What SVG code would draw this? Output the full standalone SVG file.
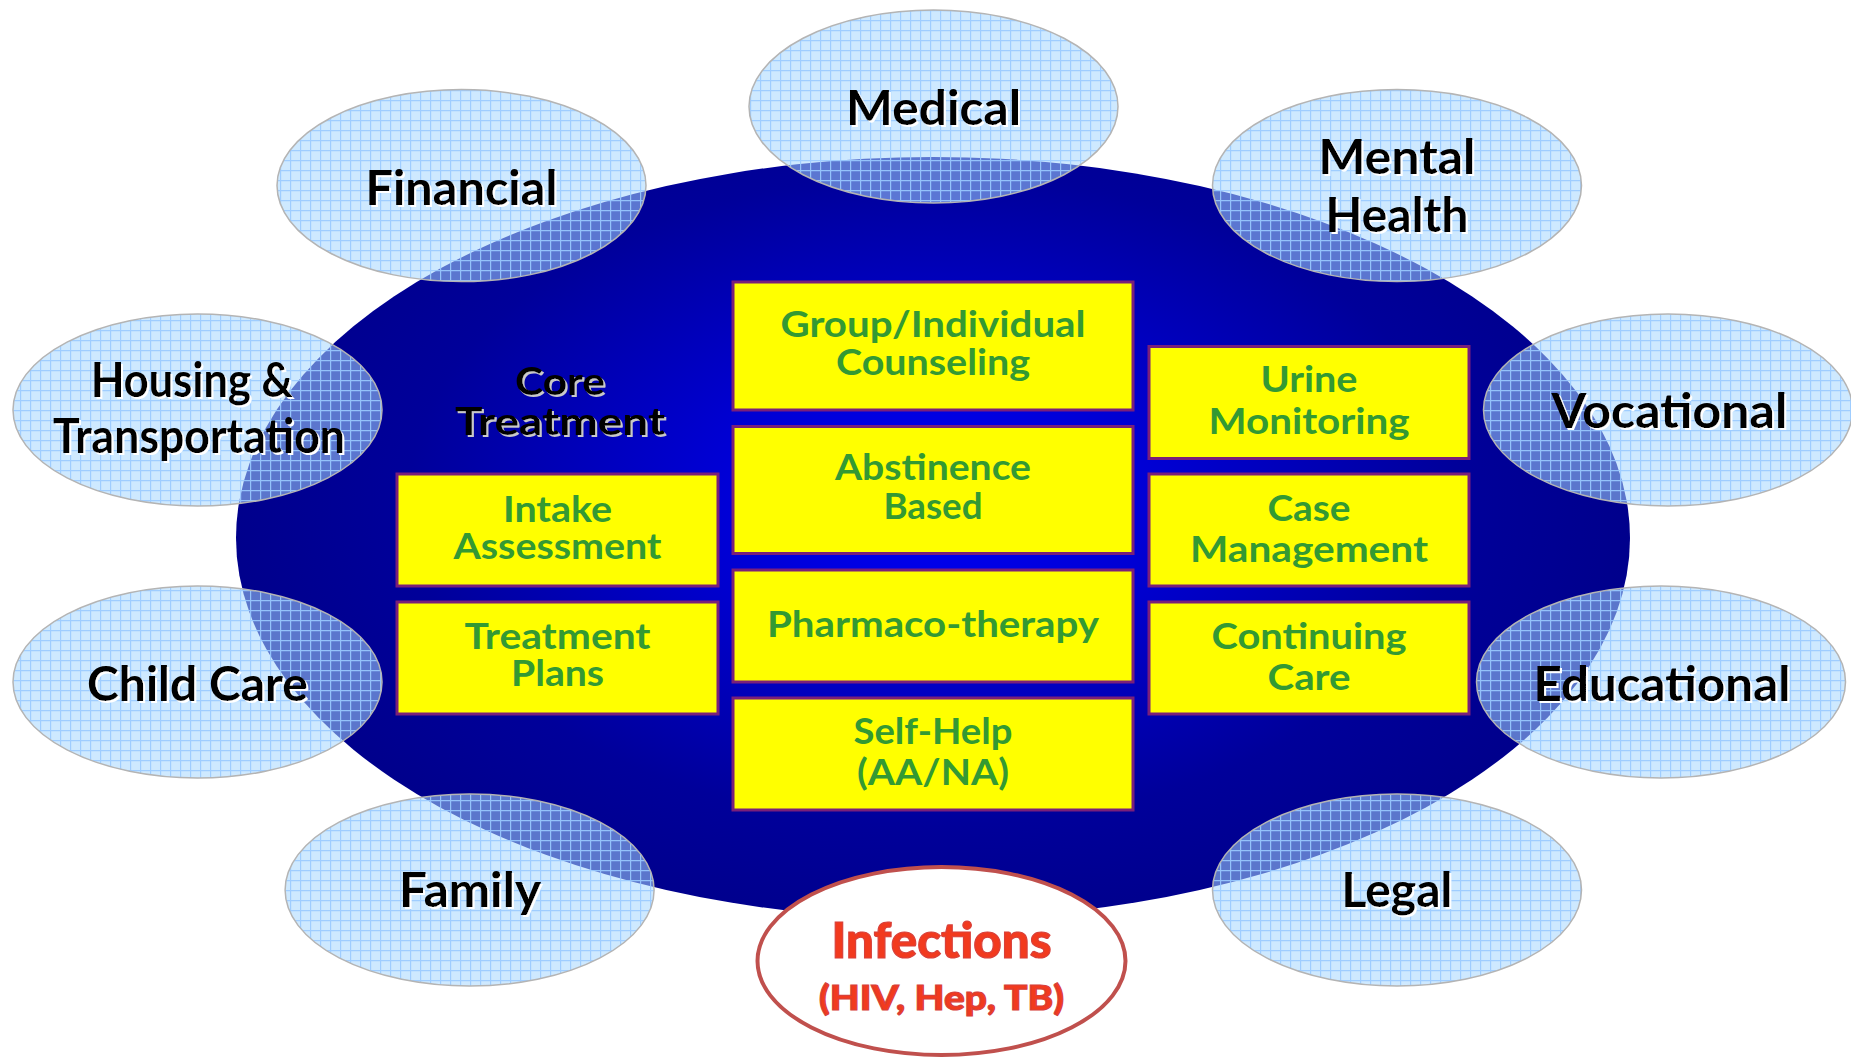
<svg xmlns="http://www.w3.org/2000/svg" width="1851" height="1058" viewBox="0 0 1851 1058">
<defs>
<radialGradient id="core" cx="933" cy="500" r="700" gradientUnits="userSpaceOnUse" gradientTransform="translate(933 500) scale(1 0.62) translate(-933 -500)">
<stop offset="0" stop-color="#0000FA"/>
<stop offset="0.35" stop-color="#0000D0"/>
<stop offset="0.75" stop-color="#00009A"/>
<stop offset="1" stop-color="#00008C"/>
</radialGradient>
<pattern id="grid" width="10" height="10" patternUnits="userSpaceOnUse">
<rect width="10" height="10" fill="#A5D7FF" fill-opacity="0.55"/>
<path d="M0 0.6 H10 M0.6 0 V10" stroke="#9ACAFF" stroke-width="1.2" stroke-opacity="0.9" fill="none"/>
</pattern>
<filter id="wshadow" x="-10%" y="-20%" width="120%" height="140%">
<feOffset in="SourceAlpha" dx="2" dy="2" result="o"/>
<feFlood flood-color="#FFFFFF"/>
<feComposite in2="o" operator="in" result="s"/>
<feMerge><feMergeNode in="s"/><feMergeNode in="SourceGraphic"/></feMerge>
</filter>
<filter id="gshadow" x="-10%" y="-20%" width="120%" height="140%">
<feOffset in="SourceAlpha" dx="2" dy="2" result="o"/>
<feFlood flood-color="#C8C8C8"/>
<feComposite in2="o" operator="in" result="s"/>
<feMerge><feMergeNode in="s"/><feMergeNode in="SourceGraphic"/></feMerge>
</filter>
<style>
.sat{fill:url(#grid);stroke:#B4B4B4;stroke-width:1.5}
.satt{font-family:Lato,"Open Sans","Liberation Sans",sans-serif;font-weight:700;font-size:47px;fill:#000;text-anchor:middle;filter:url(#wshadow)}
.box{fill:#FFFF00;stroke:#7A1F7A;stroke-width:3}
.bt{font-family:Lato,"Open Sans","Liberation Sans",sans-serif;font-weight:700;font-size:36px;fill:#339933;text-anchor:middle}
.core{font-family:Lato,"Open Sans","Liberation Sans",sans-serif;font-weight:700;font-size:38px;fill:#000;text-anchor:middle;filter:url(#gshadow)}
.inf{font-family:Lato,"Open Sans","Liberation Sans",sans-serif;font-weight:900;fill:#F23A1E;stroke:#D8403A;stroke-width:1.2;text-anchor:middle}
</style>
</defs>
<rect width="1851" height="1058" fill="#FFFFFF"/>

<g id="core-ellipse">
<ellipse cx="933" cy="538" rx="697" ry="381" fill="url(#core)"/>
<text class="core" x="560" y="395" textLength="90" lengthAdjust="spacingAndGlyphs">Core</text>
<text class="core" x="560" y="435" textLength="210" lengthAdjust="spacingAndGlyphs">Treatment</text>
</g>

<g id="box-intake">
<rect class="box" x="397" y="474" width="321" height="112"/>
<text class="bt" x="557.5" y="521.5" textLength="109" lengthAdjust="spacingAndGlyphs">Intake</text>
<text class="bt" x="557.5" y="558.5" textLength="208" lengthAdjust="spacingAndGlyphs">Assessment</text>
</g>
<g id="box-plans">
<rect class="box" x="397" y="602" width="321" height="112"/>
<text class="bt" x="557.5" y="649" textLength="186" lengthAdjust="spacingAndGlyphs">Treatment</text>
<text class="bt" x="557.5" y="686" textLength="93" lengthAdjust="spacingAndGlyphs">Plans</text>
</g>
<g id="box-group">
<rect class="box" x="733" y="282" width="400" height="128"/>
<text class="bt" x="933" y="336.5" textLength="305" lengthAdjust="spacingAndGlyphs">Group/Individual</text>
<text class="bt" x="933" y="375" textLength="194" lengthAdjust="spacingAndGlyphs">Counseling</text>
</g>
<g id="box-abstinence">
<rect class="box" x="733" y="426.5" width="400" height="127"/>
<text class="bt" x="933" y="480" textLength="196" lengthAdjust="spacingAndGlyphs">Abstinence</text>
<text class="bt" x="933" y="519" textLength="99" lengthAdjust="spacingAndGlyphs">Based</text>
</g>
<g id="box-pharmaco">
<rect class="box" x="733" y="570" width="400" height="112"/>
<text class="bt" x="933" y="636.5" textLength="332" lengthAdjust="spacingAndGlyphs">Pharmaco-therapy</text>
</g>
<g id="box-selfhelp">
<rect class="box" x="733" y="698" width="400" height="112"/>
<text class="bt" x="933" y="744" textLength="159" lengthAdjust="spacingAndGlyphs">Self-Help</text>
<text class="bt" x="933" y="785" textLength="152" lengthAdjust="spacingAndGlyphs">(AA/NA)</text>
</g>
<g id="box-urine">
<rect class="box" x="1149" y="346.5" width="320" height="112"/>
<text class="bt" x="1309" y="392" textLength="97" lengthAdjust="spacingAndGlyphs">Urine</text>
<text class="bt" x="1309" y="433.5" textLength="201" lengthAdjust="spacingAndGlyphs">Monitoring</text>
</g>
<g id="box-case">
<rect class="box" x="1149" y="474" width="320" height="112"/>
<text class="bt" x="1309" y="520.5" textLength="83" lengthAdjust="spacingAndGlyphs">Case</text>
<text class="bt" x="1309" y="561.5" textLength="238" lengthAdjust="spacingAndGlyphs">Management</text>
</g>
<g id="box-continuing">
<rect class="box" x="1149" y="602" width="320" height="112"/>
<text class="bt" x="1309" y="649" textLength="195" lengthAdjust="spacingAndGlyphs">Continuing</text>
<text class="bt" x="1309" y="690" textLength="83" lengthAdjust="spacingAndGlyphs">Care</text>
</g>

<g id="sat-medical">
<ellipse class="sat" cx="933.5" cy="106.5" rx="184.5" ry="96.5"/>
<text class="satt" x="933.5" y="125" textLength="175" lengthAdjust="spacingAndGlyphs">Medical</text>
</g>
<g id="sat-financial">
<ellipse class="sat" cx="461.5" cy="185.6" rx="184.5" ry="96"/>
<text class="satt" x="461.5" y="204.5" textLength="192" lengthAdjust="spacingAndGlyphs">Financial</text>
</g>
<g id="sat-mental">
<ellipse class="sat" cx="1397" cy="185.6" rx="184.5" ry="96"/>
<text class="satt" x="1397" y="174" textLength="157" lengthAdjust="spacingAndGlyphs">Mental</text>
<text class="satt" x="1397" y="231.5" textLength="143" lengthAdjust="spacingAndGlyphs">Health</text>
</g>
<g id="sat-housing">
<ellipse class="sat" cx="197.5" cy="410" rx="184.5" ry="96"/>
<text class="satt" x="192" y="397" textLength="202" lengthAdjust="spacingAndGlyphs">Housing &amp;</text>
<text class="satt" x="199" y="453" textLength="292" lengthAdjust="spacingAndGlyphs">Transportation</text>
</g>
<g id="sat-vocational">
<ellipse class="sat" cx="1668" cy="410" rx="184.5" ry="96"/>
<text class="satt" x="1669.5" y="427.5" textLength="236" lengthAdjust="spacingAndGlyphs">Vocational</text>
</g>
<g id="sat-childcare">
<ellipse class="sat" cx="197.5" cy="682" rx="184.5" ry="96"/>
<text class="satt" x="197.5" y="700.5" textLength="221" lengthAdjust="spacingAndGlyphs">Child Care</text>
</g>
<g id="sat-educational">
<ellipse class="sat" cx="1661" cy="682" rx="184.5" ry="96"/>
<text class="satt" x="1662" y="700.5" textLength="257" lengthAdjust="spacingAndGlyphs">Educational</text>
</g>
<g id="sat-family">
<ellipse class="sat" cx="469.6" cy="890" rx="184.5" ry="96"/>
<text class="satt" x="470" y="907" textLength="142" lengthAdjust="spacingAndGlyphs">Family</text>
</g>
<g id="sat-legal">
<ellipse class="sat" cx="1397" cy="890" rx="184.5" ry="96"/>
<text class="satt" x="1397" y="907" textLength="111" lengthAdjust="spacingAndGlyphs">Legal</text>
</g>

<g id="infections">
<ellipse cx="941.5" cy="961" rx="184" ry="94" fill="#FFFFFF" stroke="#C0504D" stroke-width="4"/>
<text class="inf" x="941.5" y="958" font-size="50" textLength="220" lengthAdjust="spacingAndGlyphs">Infections</text>
<text class="inf" x="941.5" y="1010" font-size="35" textLength="245" lengthAdjust="spacingAndGlyphs">(HIV, Hep, TB)</text>
</g>

<g id="connectors"/>
</svg>
